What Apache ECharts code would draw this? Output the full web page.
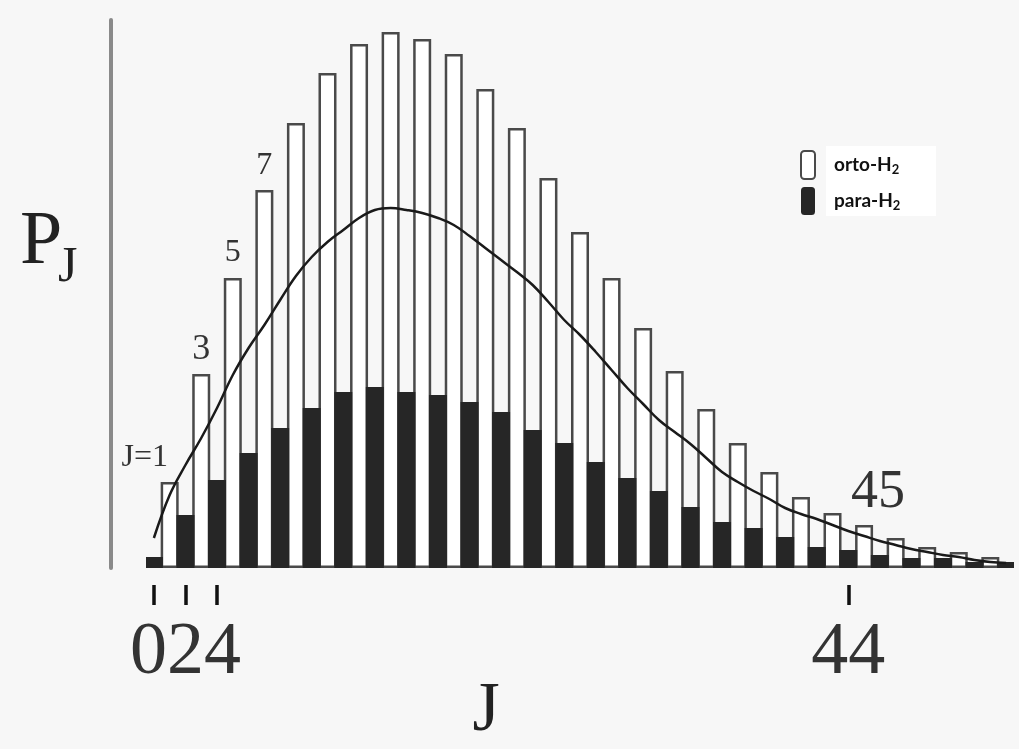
<!DOCTYPE html>
<html><head><meta charset="utf-8">
<script src="https://cdn.jsdelivr.net/npm/echarts@6/dist/echarts.min.js"></script>
<style>html,body{margin:0;padding:0;background:#f7f7f7}#c{width:1019px;height:749px}</style>
</head><body><div id="c"></div>
<script>
// J values (rotational quantum number)
const jEven = [0,2,4,6,8,10,12,14,16,18,20,22,24,26,28,30,32,34,36,38,40,42,44,46,48,50,52,54];
const jOdd  = [1,3,5,7,9,11,13,15,17,19,21,23,25,27,29,31,33,35,37,39,41,43,45,47,49,51,53];
const jAll  = [0,1,2,3,4,5,6,7,8,9,10,11,12,13,14,15,16,17,18,19,20,21,22,23,24,25,26,27,28,29,30,31,32,33,34,35,36,37,38,39,40,41,42,43,44,45,46,47,48,49,50,51,52,53,54];
// populations (arbitrary units)
const paraValues  = [11,53,88,115,140,160,176,181,176,173,166,156,138,125,106,90,77,61,46,40,31,21,18,13,10,10,6,6];
const orthoValues = [86,194,290,378,445,495,524,536,529,514,479,440,390,336,290,240,197,159,125,96,71,55,43,30,21,16,11];
const envelope    = [30,73,103,130,160,193,220,243,268,292,311,326,338,350,358,360,358,355,350,343,332,320,308,296,283,266,248,233,216,198,180,164,148,136,124,110,96,86,77,69,60,54,49,43,37,32,27,23,19,16,13,11,8,6,5];
// x tick labels
const tickValues = [0,2,4,44];
// bar annotations
const annotJ    = [1,3,5,7,45];
const annotText = ['J=1','3','5','7','45'];

const serif = '"Liberation Serif","DejaVu Serif",serif';
const annotStyle = {
  1:  {position:[-16,-24], align:'center', verticalAlign:'middle', fontSize:32},
  3:  {position:'top', distance:6, fontSize:36},
  5:  {position:'top', distance:9, fontSize:32},
  7:  {position:'top', distance:8, fontSize:32},
  45: {position:'top', distance:5, offset:[14,0], fontSize:54}
};

const orthoData = jAll.map(() => '-');
jOdd.forEach((j,i) => {
  const item = {value:orthoValues[i]};
  const k = annotJ.indexOf(j);
  if (k >= 0) {
    item.label = Object.assign({show:true, formatter:annotText[k], fontFamily:serif, color:'#333', lineHeight:annotStyle[j].fontSize}, annotStyle[j]);
  }
  orthoData[jAll.indexOf(j)] = item;
});
const paraData = jAll.map(() => '-');
jEven.forEach((j,i) => { paraData[jAll.indexOf(j)] = paraValues[i]; });

const isTick = (idx, val) => tickValues.indexOf(Number(val)) >= 0;
const tickFont = {fontFamily:serif, fontSize:74, color:'#333', lineHeight:74};

const chart = echarts.init(document.getElementById('c'), null, {renderer:'canvas'});
chart.setOption({
  animation:false,
  backgroundColor:'#f7f7f7',
  grid:{left:146, right:5, top:20, bottom:181},
  xAxis:{
    type:'category', data:jAll.map(String), boundaryGap:true, offset:17,
    axisLine:{show:false, onZero:false},
    splitLine:{show:false},
    axisTick:{show:true, alignWithLabel:true, interval:isTick, length:20, lineStyle:{color:'#111', width:3.5}},
    axisLabel:{show:true, interval:isTick, margin:32, hideOverlap:false, showMinLabel:true, showMaxLabel:true,
      fontFamily:serif, fontSize:74, color:'#333', lineHeight:74,
      formatter: v => v==='0' ? '{l|0}' : (v==='4' ? '{r|4}' : (v==='2' ? '{m|2}' : '{n|'+v+'}')),
      rich:{
        l:Object.assign({width:26, align:'right', overflow:'none'}, tickFont),
        m:Object.assign({width:26, align:'center', overflow:'none'}, tickFont),
        r:Object.assign({width:26, align:'left', overflow:'none'}, tickFont),
        n:Object.assign({}, tickFont)
      }}
  },
  yAxis:{
    type:'value', min:0, max:548, offset:35,
    axisLine:{show:true, onZero:false, lineStyle:{color:'#8a8a8a', width:4}},
    axisTick:{show:false}, axisLabel:{show:false}, splitLine:{show:false}
  },
  legend:{
    orient:'vertical', left:795, top:145, itemWidth:14, itemHeight:28, itemGap:7, z:5,
    data:['orto-H2','para-H2'],
    formatter: n => '{t|' + n.slice(0,-1) + '}{s|2}',
    textStyle:{padding:[0,0,0,14], rich:{
      t:{fontFamily:'Lato', fontWeight:'bold', fontSize:19, color:'#111'},
      s:{fontFamily:'Lato', fontWeight:'bold', fontSize:13, color:'#111', padding:[9,0,0,0]}
    }}
  },
  graphic:[
    {type:'rect', left:826, top:146, z:0, shape:{width:110, height:70}, style:{fill:'#ffffff'}},
    {type:'text', x:20, y:243, z:10, style:{text:'P', fontFamily:serif, fontSize:76, fill:'#222', align:'left', verticalAlign:'middle'}},
    {type:'text', x:58, y:268, z:10, style:{text:'J', fontFamily:serif, fontSize:50, fill:'#222', align:'left', verticalAlign:'middle'}},
    {type:'text', x:486, y:712, z:10, style:{text:'J', fontFamily:serif, fontSize:70, fill:'#222', align:'center', verticalAlign:'middle'}}
  ],
  series:[
    {name:'orto-H2', type:'bar', barWidth:18, barGap:'-100%', data:orthoData,
     itemStyle:{color:'#ffffff', borderColor:'#4a4a4a', borderWidth:2.5}},
    {name:'para-H2', type:'bar', barWidth:18, barGap:'-100%', data:paraData,
     itemStyle:{color:'#262626'}},
    {name:'envelope', type:'line', data:envelope, smooth:0.4, symbol:'none', z:4,
     lineStyle:{color:'#1a1a1a', width:2.5}}
  ]
});
</script></body></html>
